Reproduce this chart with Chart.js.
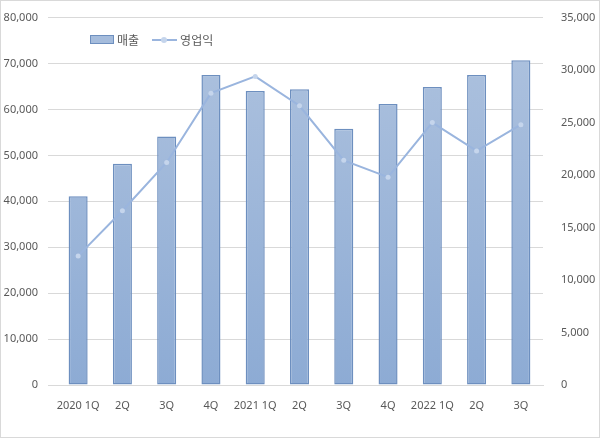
<!DOCTYPE html>
<html>
<head>
<meta charset="utf-8">
<script src="https://cdn.jsdelivr.net/npm/chart.js@4/dist/chart.umd.min.js"></script>
<style>
    html, body { margin: 0; padding: 0; background: #ffffff; }
    .frame {
        position: relative;
        width: 598px;
        height: 436px;
        border: 1px solid #d9d9d9;
        font-family: "Noto Sans CJK KR", "Noto Sans", sans-serif;
    }
    .legend {
        position: absolute;
        left: 89px;
        top: 30px;
        display: flex;
        align-items: center;
        font-size: 12px;
        color: #595959;
    }
    .legend .bar-key {
        width: 22px;
        height: 7px;
        background: #a5bcdc;
        border: 1px solid #6d8fbf;
        margin-right: 3px;
    }
    .legend .line-key {
        position: relative;
        width: 25px;
        height: 2px;
        background: #9ab5de;
        margin: 0 3px 0 13px;
    }
    .legend .line-key::after {
        content: "";
        position: absolute;
        left: 9px;
        top: -2px;
        width: 6px;
        height: 6px;
        border-radius: 50%;
        background: #c5d5ec;
    }
</style>
</head>
<body>
<div class="frame">
    <canvas id="salesChart" width="598" height="436"></canvas>
    <div class="legend">
        <span class="bar-key"></span><span>매출</span>
        <span class="line-key"></span><span>영업익</span>
    </div>
</div>
<script>
// Quarterly revenue (bars, left axis) and operating profit (line, right axis)
const quarters = ["2020 1Q", "2Q", "3Q", "4Q", "2021 1Q", "2Q", "3Q", "4Q", "2022 1Q", "2Q", "3Q"];
const revenue = [41100, 48200, 54100, 67500, 64000, 64400, 55800, 61200, 64900, 67500, 70700];
const operatingProfit = [12300, 16600, 21200, 27800, 29400, 26600, 21400, 19800, 25000, 22300, 24800];

const leftTicks = [0, 10000, 20000, 30000, 40000, 50000, 60000, 70000, 80000];
const rightTicks = [0, 5000, 10000, 15000, 20000, 25000, 30000, 35000];

const tickFont = { family: "'Noto Sans', 'Noto Sans CJK KR', sans-serif", size: 11 };
const tickColor = "#595959";
const gridColor = "#d9d9d9";

function barGradient(context) {
    const area = context.chart.chartArea;
    if (!area) return "#a5bcdc";
    const g = context.chart.ctx.createLinearGradient(0, area.top, 0, area.bottom);
    g.addColorStop(0, "#afc3df");
    g.addColorStop(1, "#8dabd4");
    return g;
}

new Chart(document.getElementById("salesChart"), {
    data: {
        labels: quarters,
        datasets: [
            {
                type: "line",
                label: "영업익",
                data: operatingProfit,
                yAxisID: "y1",
                borderColor: "#9ab5de",
                borderWidth: 2,
                pointRadius: 2.5,
                pointBackgroundColor: "#c5d5ec",
                pointBorderColor: "#c5d5ec",
                pointBorderWidth: 0,
                tension: 0,
                order: 0,
            },
            {
                type: "bar",
                label: "매출",
                data: revenue,
                yAxisID: "y",
                backgroundColor: barGradient,
                borderColor: "#6d8fbf",
                borderWidth: 1.5,
                borderSkipped: false,
                categoryPercentage: 1,
                barPercentage: 0.43,
                order: 1,
            },
        ],
    },
    options: {
        responsive: false,
        animation: false,
        layout: { padding: { top: 3, left: 0, right: 0, bottom: 0 } },
        plugins: {
            legend: { display: false },
            tooltip: { enabled: false },
        },
        scales: {
            x: {
                grid: { display: false },
                border: { color: gridColor },
                ticks: { color: tickColor, font: tickFont, padding: 6, maxRotation: 0, autoSkip: false },
                afterFit: (scale) => { scale.height = 52; },
            },
            y: {
                position: "left",
                min: 0,
                max: 80000,
                afterBuildTicks: (scale) => { scale.ticks = leftTicks.map((v) => ({ value: v })); },
                grid: { color: gridColor },
                border: { display: false },
                ticks: {
                    color: tickColor,
                    font: tickFont,
                    padding: 10,
                    callback: (v) => v.toLocaleString("en-US"),
                },
                afterFit: (scale) => { scale.width = 55; },
            },
            y1: {
                position: "right",
                min: 0,
                max: 35000,
                afterBuildTicks: (scale) => { scale.ticks = rightTicks.map((v) => ({ value: v })); },
                grid: { display: false },
                border: { display: false },
                ticks: {
                    color: tickColor,
                    font: tickFont,
                    padding: 10,
                    callback: (v) => v.toLocaleString("en-US"),
                },
                afterFit: (scale) => { scale.width = 56; },
            },
        },
    },
});
</script>
</body>
</html>
